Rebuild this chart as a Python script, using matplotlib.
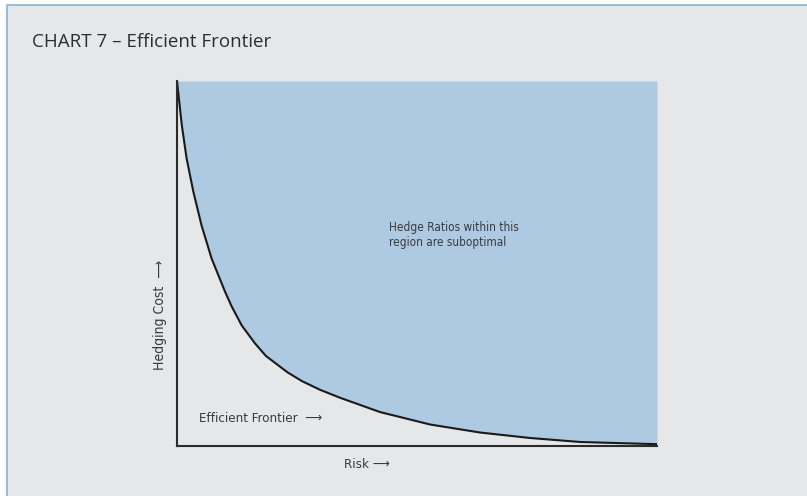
import matplotlib.pyplot as plt
from matplotlib.patches import Rectangle
import numpy as np

# frontier curve (risk vs hedging cost, arbitrary 0-10 units)
risk = [0.0, 0.10, 0.20, 0.34, 0.51, 0.72, 1.00, 1.14, 1.35, 1.62, 1.85, 2.30, 2.60,
        2.98, 3.40, 4.23, 5.27, 6.31, 7.35, 8.40, 10.0]
cost = [10.0, 8.79, 7.88, 6.97, 6.05, 5.14, 4.23, 3.82, 3.30, 2.82, 2.47, 2.02, 1.78,
        1.54, 1.32, 0.93, 0.59, 0.37, 0.22, 0.11, 0.05]

title = "CHART 7 \u2013 Efficient Frontier"
region_label = "Hedge Ratios within this\nregion are suboptimal"
frontier_label = "Efficient Frontier  \u27f6"
x_label = "Risk \u27f6"
y_label = "Hedging Cost  \u27f6"

bg = "#e6e7e9"
fill_col = "#aec9e2"
txt_col = "#3a3a3c"
narrow = dict(family="DejaVu Sans", stretch="condensed")

W, H = 807, 496
fig = plt.figure(figsize=(W / 100, H / 100), dpi=100, facecolor="white")

# outer panel with thin blue border
fig.patches.append(Rectangle((7 / W, -0.01), 1.0, (H - 5) / H + 0.01, transform=fig.transFigure,
                             facecolor=bg, edgecolor="#8fb0d0", linewidth=1.2, zorder=-5))

ax = fig.add_axes([177 / W, 1 - 446 / H, 480 / W, 365 / H])
ax.set_facecolor(bg)
ax.fill_between(risk, cost, 10, color=fill_col, linewidth=0)
ax.plot(risk, cost, color="#1a1a1a", lw=1.5, solid_joinstyle="round")
ax.set_xlim(0, 10)
ax.set_ylim(0, 10)
ax.set_xticks([])
ax.set_yticks([])
for s in ["top", "right"]:
    ax.spines[s].set_visible(False)
for s in ["left", "bottom"]:
    ax.spines[s].set_color("#2b2b2b")
    ax.spines[s].set_linewidth(1.5)

fig.text(32 / W, 1 - 42 / H, title, fontsize=13.5, color="#2d2d2f", va="center", ha="left",
         family=["Open Sans", "DejaVu Sans"])
fig.text(389 / W, 1 - 235 / H, region_label, fontsize=8.5, color=txt_col, va="center", ha="left",
         linespacing=1.25, **narrow)
fig.text(199 / W, 1 - 418 / H, frontier_label, fontsize=9.5, color=txt_col, va="center", ha="left",
         **narrow)
fig.text(367 / W, 1 - 465 / H, x_label, fontsize=9.5, color=txt_col, va="center", ha="center",
         **narrow)
fig.text(160 / W, 1 - 315 / H, y_label, fontsize=10, color=txt_col, va="center", ha="center",
         rotation=90, **narrow)

fig.savefig("out.png", dpi=100, facecolor=fig.get_facecolor())
